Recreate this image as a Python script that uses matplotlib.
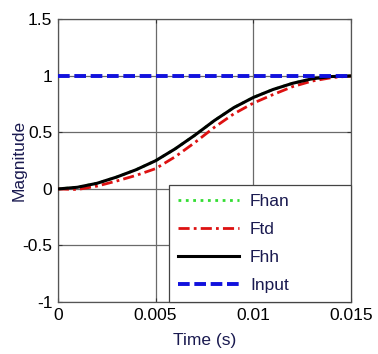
import matplotlib
matplotlib.use("Agg")
import matplotlib.pyplot as plt
import numpy as np

plt.rcParams['font.family'] = ['Liberation Sans', 'DejaVu Sans']

t = [0.0, 0.001, 0.002, 0.003, 0.004, 0.005, 0.006, 0.007, 0.008, 0.009,
     0.010, 0.011, 0.012, 0.013, 0.014, 0.015]
fhh = [0.0, 0.015, 0.05, 0.105, 0.17, 0.25, 0.355, 0.475, 0.605, 0.72,
       0.81, 0.88, 0.935, 0.975, 0.995, 1.0]
ftd = [0.0, -0.005, 0.025, 0.07, 0.12, 0.18, 0.285, 0.41, 0.545, 0.665,
       0.76, 0.835, 0.905, 0.955, 0.985, 1.0]
fhan = fhh
input_t = [0.0, 0.015]
input_v = [1.0, 1.0]

xticks = [0, 0.005, 0.01, 0.015]
xticklabels = ['0', '0.005', '0.01', '0.015']
yticks = [-1, -0.5, 0, 0.5, 1, 1.5]
yticklabels = ['-1', '-0.5', '0', '0.5', '1', '1.5']

fig = plt.figure(figsize=(3.78, 3.54), dpi=100)
ax = fig.add_axes([0.153, 0.147, 0.776, 0.798])

ax.plot(t, fhan, color='#33dd33', linestyle=':', lw=2, label='Fhan', zorder=2)
ax.plot(t, ftd, color='#dd1111', linestyle=(0, (4, 1.5, 1, 1.5)), lw=2, label='Ftd', zorder=3)
ax.plot(t, fhh, color='black', linestyle='-', lw=2.2, label='Fhh', zorder=4)
ax.plot(input_t, input_v, color='#1111dd', linestyle=(0, (3, 1.2)), lw=2.8, label='Input', zorder=5)

ax.set_xlim(0, 0.015)
ax.set_ylim(-1, 1.5)
ax.set_xticks(xticks)
ax.set_xticklabels(xticklabels)
ax.set_yticks(yticks)
ax.set_yticklabels(yticklabels)
ax.grid(True, color='#6a6a6a', lw=0.9)
ax.tick_params(direction='in', length=3, top=True, right=True, labelsize=12.5,
               colors='#333333', labelcolor='black', pad=4)
for s in ax.spines.values():
    s.set_color('#555555')
    s.set_linewidth(0.9)

ax.set_xlabel('Time (s)', fontsize=12.5, color='#1a1a50')
ax.set_ylabel('Magnitude', fontsize=12.5, color='#1a1a50')
ax.xaxis.set_label_coords(0.5, -0.11)
ax.yaxis.set_label_coords(-0.105, 0.5)

x0 = 0.38
leg = ax.legend(loc='lower left', bbox_to_anchor=(x0, 0.0, 1 - x0, 0.42), mode='expand',
                fontsize=12.5, frameon=True, fancybox=False,
                borderaxespad=0, handlelength=3.5, labelspacing=0.74,
                borderpad=0.5, handletextpad=0.65)
leg.get_frame().set_edgecolor('#444444')
leg.get_frame().set_linewidth(0.9)
leg.get_frame().set_alpha(1)
for txt in leg.get_texts():
    txt.set_color('#1a1a50')

fig.savefig('out.png', dpi=100)
